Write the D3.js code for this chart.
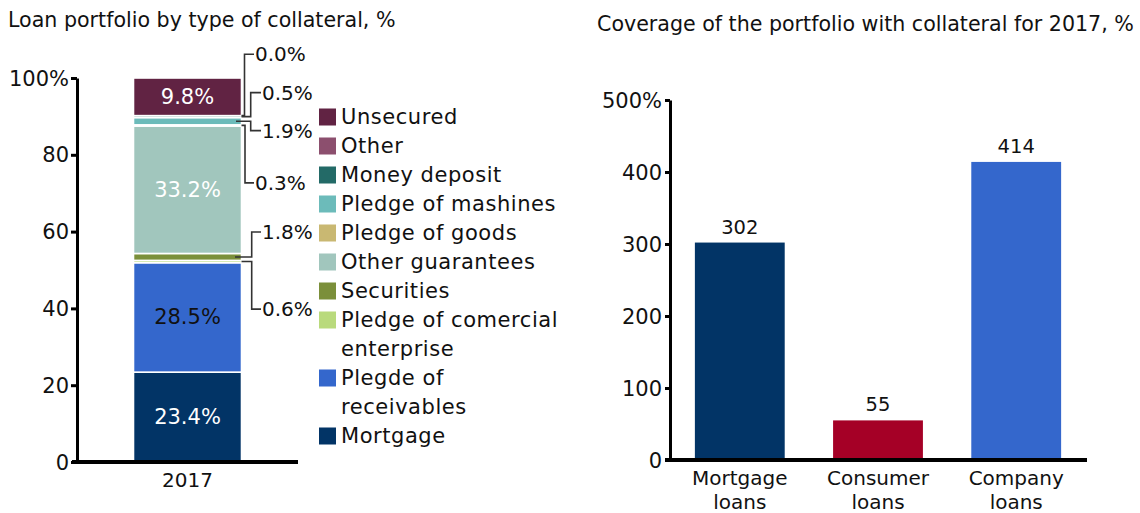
<!DOCTYPE html>
<html><head><meta charset="utf-8">
<script src="https://cdn.jsdelivr.net/npm/d3@7"></script>
<style>
body{margin:0;background:#fff;}
svg text{font-family:"DejaVu Sans",Verdana,sans-serif;fill:#111;}
</style></head>
<body><svg id="c" width="1140" height="513"></svg>
<script>
// ---------- data ----------
const leftTitle = "Loan portfolio by type of collateral, %";
const rightTitle = "Coverage of the portfolio with collateral for 2017, %";
const year = "2017";
// stacking order bottom -> top
const collateralTypes = ["Mortgage","Plegde of receivables","Pledge of comercial enterprise","Securities","Other guarantees","Pledge of goods","Pledge of mashines","Money deposit","Other","Unsecured"];
const collateralShares = [23.4, 28.5, 0.6, 1.8, 33.2, 0.3, 1.9, 0.5, 0.0, 9.8];
const collateralColors = ["#023466","#3467cc","#b9da7c","#7b8f3a","#a1c6bd","#c9b872","#6cbbba","#236a67","#8c4f6e","#612343"];
const leftTicks = [0,20,40,60,80,100];
// legend order (top -> bottom)
const legendOrder = ["Unsecured","Other","Money deposit","Pledge of mashines","Pledge of goods","Other guarantees","Securities","Pledge of comercial enterprise","Plegde of receivables","Mortgage"];

const loanTypes = ["Mortgage loans","Consumer loans","Company loans"];
const coverageValues = [302, 55, 414];
const coverageColors = ["#023466","#a50026","#3467cc"];
const rightTicks = [0,100,200,300,400,500];

const svg = d3.select("#c");

// ---------- left chart ----------
svg.append("text").attr("x",8).attr("y",20).attr("dominant-baseline","central")
  .style("font-size","20.6px").text(leftTitle);

const yL = d3.scaleLinear().domain([0,100]).range([462,78]);
const xL = d3.scaleBand().domain([year]).range([77,298]).paddingInner(0).paddingOuter(0.523);

const row = {}; collateralTypes.forEach((t,i)=>row[t]=collateralShares[i]);
const stack = d3.stack().keys(collateralTypes)([row]);
const colorOf = d3.scaleOrdinal().domain(collateralTypes).range(collateralColors);

const seg = svg.append("g");
stack.forEach(s=>{
  const d = s[0];
  const y0 = yL(d[0]), y1 = yL(d[1]);
  seg.append("rect")
    .attr("x", xL(year)).attr("width", xL.bandwidth())
    .attr("y", y1).attr("height", Math.max(0, y0-y1))
    .attr("fill", colorOf(s.key))
    .attr("stroke","#fff").attr("stroke-width",1.6);
});

// inside labels for big segments
const insideColor = {"Unsecured":"#fff","Other guarantees":"#fff","Plegde of receivables":"#111","Mortgage":"#fff"};
stack.forEach(s=>{
  if(!(s.key in insideColor)) return;
  const d = s[0];
  svg.append("text")
    .attr("x", xL(year)+xL.bandwidth()/2)
    .attr("y", yL((d[0]+d[1])/2))
    .attr("text-anchor","middle").attr("dominant-baseline","central")
    .style("font-size","21px").style("fill",insideColor[s.key])
    .text(d3.format(".1f")(row[s.key])+"%");
});

// callouts for small segments: elbow x, label y (in value units), label x
const callouts = [
  {key:"Other", elbow:244.5, ly:106.2, lx:255},
  {key:"Money deposit", elbow:250.7, ly:96.2, lx:262},
  {key:"Pledge of mashines", elbow:250.7, ly:86.3, lx:262, start:236},
  {key:"Pledge of goods", elbow:245, ly:72.7, lx:255},
  {key:"Securities", elbow:251.7, ly:59.9, lx:262, start:235},
  {key:"Pledge of comercial enterprise", elbow:251.7, ly:39.8, lx:262}
];
const barRight = xL(year)+xL.bandwidth();
callouts.forEach(c=>{
  const d = stack.find(s=>s.key===c.key)[0];
  let ay = yL((d[0]+d[1])/2);
  if(c.key==="Other") ay = yL(d[0]);
  const ty = yL(c.ly);
  const sx = c.start || barRight;
  svg.append("path")
    .attr("d", `M${sx},${ay}H${c.elbow}V${ty}H${c.lx-1}`)
    .attr("fill","none").attr("stroke","#333").attr("stroke-width",1.6);
  svg.append("text").attr("x",c.lx).attr("y",ty)
    .attr("dominant-baseline","central").style("font-size","20px")
    .text(d3.format(".1f")(row[c.key])+"%");
});

// axes
const axL = d3.axisLeft(yL).tickValues(leftTicks).tickSize(6).tickSizeOuter(0)
  .tickFormat(v=>v===100?"100%":String(v));
const gL = svg.append("g").attr("transform","translate(77,0)").call(axL);
gL.select(".domain").attr("stroke","#000").attr("stroke-width",3);
gL.selectAll(".tick line").attr("stroke","#000").attr("stroke-width",3);
gL.selectAll(".tick text").style("font-size","21px").attr("x",-8).attr("dy",null)
  .attr("dominant-baseline","central").style("fill","#111");

const axLx = d3.axisBottom(xL).tickSize(0).tickSizeOuter(0);
const gLx = svg.append("g").attr("transform","translate(0,462)").call(axLx);
gLx.select(".domain").remove();
gLx.append("line").attr("x1",72).attr("x2",298).attr("stroke","#000").attr("stroke-width",4);
gLx.selectAll(".tick text").style("font-size","20px").attr("y",18).attr("dy",null)
  .attr("dominant-baseline","central").style("fill","#111");

// legend
const lg = svg.append("g");
const legendRows = [0,1,2,3,4,5,6,7,9,11]; // line slots (two-line entries take two)
const legendLines = {"Pledge of comercial enterprise":["Pledge of comercial","enterprise"],"Plegde of receivables":["Plegde of","receivables"]};
legendOrder.forEach((k,i)=>{
  const cy = 117 + legendRows[i]*29.0;
  lg.append("rect").attr("x",319).attr("y",cy-8.5).attr("width",17).attr("height",17).attr("fill",colorOf(k));
  const lines = legendLines[k] || [k];
  lines.forEach((t,j)=>{
    lg.append("text").attr("x",341).attr("y",cy+j*28.5).attr("dominant-baseline","central")
      .style("font-size","21px").style("letter-spacing","0.55px").text(t);
  });
});

// ---------- right chart ----------
svg.append("text").attr("x",597).attr("y",24).attr("dominant-baseline","central")
  .style("font-size","20.6px").text(rightTitle);

const yR = d3.scaleLinear().domain([0,500]).range([460,100]);
const xR = d3.scaleBand().domain(loanTypes).range([670,1086]).paddingInner(0.35).paddingOuter(0.18);

svg.append("g").selectAll("rect").data(loanTypes).join("rect")
  .attr("x",d=>xR(d)).attr("width",xR.bandwidth())
  .attr("y",(d,i)=>yR(coverageValues[i])).attr("height",(d,i)=>yR(0)-yR(coverageValues[i]))
  .attr("fill",(d,i)=>coverageColors[i]);

svg.append("g").selectAll("text").data(loanTypes).join("text")
  .attr("x",d=>xR(d)+xR.bandwidth()/2)
  .attr("y",(d,i)=>yR(coverageValues[i])-15.5)
  .attr("text-anchor","middle").attr("dominant-baseline","central")
  .style("font-size","19.5px")
  .text((d,i)=>coverageValues[i]);

const axR = d3.axisLeft(yR).tickValues(rightTicks).tickSize(5).tickSizeOuter(0)
  .tickFormat(v=>v===500?"500%":String(v));
const gR = svg.append("g").attr("transform","translate(670,0)").call(axR);
gR.select(".domain").attr("stroke","#000").attr("stroke-width",3);
gR.selectAll(".tick line").attr("stroke","#000").attr("stroke-width",3);
gR.selectAll(".tick text").style("font-size","21px").attr("x",-8).attr("dy",null)
  .attr("dominant-baseline","central").style("fill","#111");

const axRx = d3.axisBottom(xR).tickSize(0).tickSizeOuter(0);
const gRx = svg.append("g").attr("transform","translate(0,460)").call(axRx);
gRx.select(".domain").remove();
gRx.append("line").attr("x1",665).attr("x2",1087).attr("stroke","#000").attr("stroke-width",4);
gRx.selectAll(".tick text").each(function(d){
  const t = d3.select(this); const parts = d.split(" ");
  t.text(null).style("font-size","20px").style("fill","#111").attr("y",0).attr("dy",null);
  parts.forEach((p,j)=>t.append("tspan").attr("x",0).attr("y",18+j*24).attr("dominant-baseline","central").text(p));
});
</script></body></html>
